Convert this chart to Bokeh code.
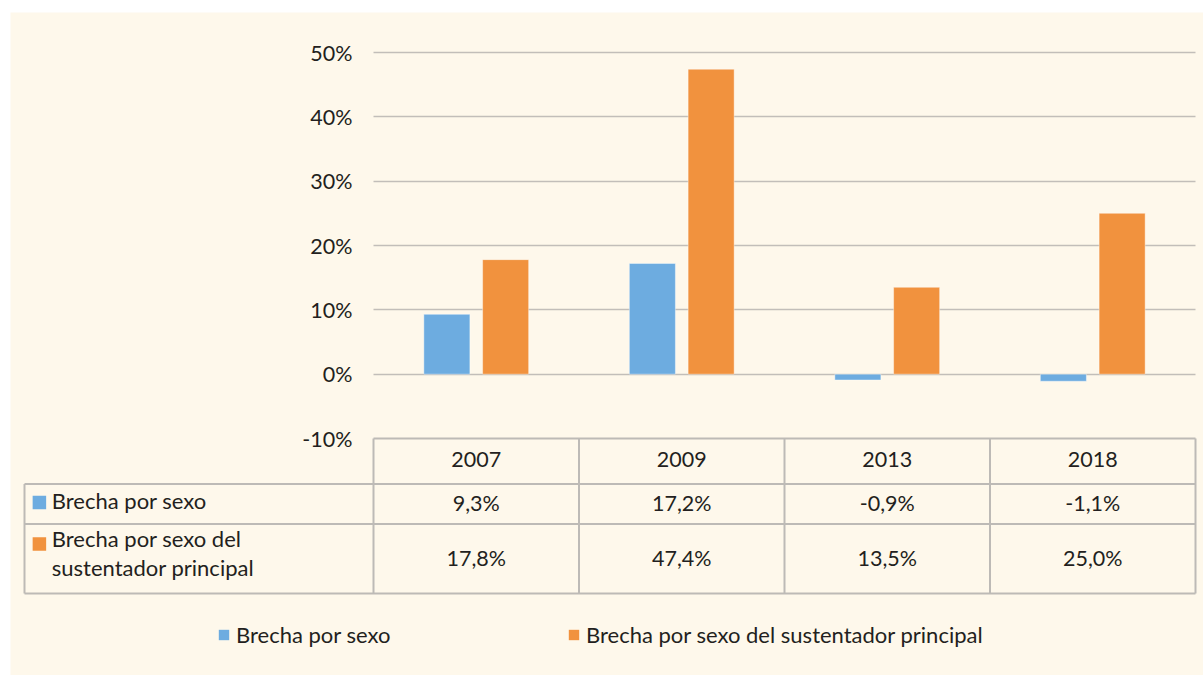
from bokeh.plotting import figure
from bokeh.models import (Range1d, FixedTicker, PrintfTickFormatter, ColumnDataSource,
                          Legend, LegendItem, LinearAxis, Grid)
from bokeh.transform import dodge
from bokeh.core.properties import value
from bokeh.embed import file_html
from bokeh.resources import INLINE

# ---------------- data ----------------
years = ["2007", "2009", "2013", "2018"]
brecha_sexo = [9.3, 17.2, -0.9, -1.1]
brecha_sustentador = [17.8, 47.4, 13.5, 25.0]
series_names = ["Brecha por sexo", "Brecha por sexo del sustentador principal"]
table_row_labels = ["Brecha por sexo", "Brecha por sexo del\nsustentador principal"]
y_ticks = [-10, 0, 10, 20, 30, 40, 50]
grid_ticks = [0, 10, 20, 30, 40, 50]

# ---------------- style ----------------
BLUE = "#6DACE0"
ORANGE = "#F1923E"
BG = "#FEF8EB"
GRID = "#C2BEB9"
TABLE_LINE = "#BDBAB6"
TEXT = "#231F20"
FONT = "Lato"
FS = "21.5px"
FS_LBL = "22px"

W, H = 1203, 675
LEFT, TOP = 10, 12            # white strip around the cream area
CAT_PX = 205.5                # pixel width of one category column
ZERO_X = 373                  # pixel x of the first category's left edge
PX_PER_PCT = 386 / 60         # vertical scale
Y50 = 52                      # pixel y of the 50% line


def xpx(px):
    return (px - ZERO_X) / CAT_PX


def ypx(py):
    return 50 - (py - Y50) / PX_PER_PCT


n = len(years)
p = figure(width=W, height=H,
           x_range=Range1d(xpx(LEFT), xpx(W)), y_range=Range1d(ypx(H), ypx(TOP)),
           output_backend="svg", toolbar_location=None,
           x_axis_location=None, y_axis_location=None,
           min_border_left=LEFT, min_border_top=TOP, min_border_right=0, min_border_bottom=0)
p.background_fill_color = BG
p.border_fill_color = "white"
p.outline_line_color = None
for g in p.grid:
    g.visible = False

# y axis anchored at the left edge of the category area
yaxis = LinearAxis(fixed_location=0, ticker=FixedTicker(ticks=y_ticks),
                   formatter=PrintfTickFormatter(format="%d%%"))
yaxis.axis_line_color = None
yaxis.major_tick_line_color = None
yaxis.minor_tick_line_color = None
yaxis.major_tick_out = 0
yaxis.major_tick_in = 0
yaxis.major_label_standoff = 21
yaxis.major_label_text_font = FONT
yaxis.major_label_text_font_size = FS
yaxis.major_label_text_color = TEXT
p.add_layout(yaxis, "left")

grid = Grid(dimension=1, ticker=FixedTicker(ticks=grid_ticks), cross_bounds=(0, n),
            grid_line_color=GRID, grid_line_width=1.5)
p.add_layout(grid)

# ---------------- bars ----------------
src = ColumnDataSource(dict(xc=[i + 0.5 for i in range(n)], year=years,
                            sexo=brecha_sexo, sust=brecha_sustentador))
p.vbar(x=dodge("xc", -0.143), top="sexo", bottom=0, width=0.224, source=src,
       fill_color=BLUE, line_color="white", line_alpha=0.4, line_width=1)
p.vbar(x=dodge("xc", 0.143), top="sust", bottom=0, width=0.224, source=src,
       fill_color=ORANGE, line_color="white", line_alpha=0.4, line_width=1)

# ---------------- data table ----------------
TL = xpx(24)
R0, R1, R2, R3 = ypx(438), ypx(483.5), ypx(523.5), ypx(593)
x0s = [0, TL, TL, TL, TL] + list(range(n + 1))
x1s = [n, n, n, n, TL] + list(range(n + 1))
y0s = [R0, R1, R2, R3, R1] + [R0] * (n + 1)
y1s = [R0, R1, R2, R3, R3] + [R3] * (n + 1)
p.segment(x0=x0s, y0=y0s, x1=x1s, y1=y1s, line_color=TABLE_LINE, line_width=2)

fmt = lambda v: f"{v:.1f}".replace(".", ",") + "%"
txt = dict(text_font=value(FONT), text_font_size=FS, text_color=TEXT,
           text_align="center", text_baseline="alphabetic")
p.text(x="xc", y=ypx(459), text="year", source=src, **txt)
p.text(x=src.data["xc"], y=[ypx(502)] * n, text=[fmt(v) for v in brecha_sexo], **txt)
p.text(x=src.data["xc"], y=[ypx(557)] * n, text=[fmt(v) for v in brecha_sustentador], **txt)

LBL_X = xpx(51.3)
SQ_X = xpx(38.9)
p.text(x=[LBL_X], y=[ypx(499.5)], text=[table_row_labels[0]], text_font=value(FONT),
       text_font_size=FS_LBL, text_color=TEXT, text_align="left", text_baseline="alphabetic")
p.text(x=[LBL_X], y=[ypx(524)], text=[table_row_labels[1]], text_font=value(FONT),
       text_font_size=FS_LBL, text_color=TEXT, text_align="left", text_baseline="top",
       text_line_height=1.1)

r1 = p.rect(x=[SQ_X], y=[ypx(501.9)], width=13.5, height=13.5, width_units="screen",
            height_units="screen", fill_color=BLUE, line_color=None)
r2 = p.rect(x=[SQ_X], y=[ypx(543.4)], width=13.5, height=13.5, width_units="screen",
            height_units="screen", fill_color=ORANGE, line_color=None)

# ---------------- legend ----------------
legend = Legend(items=[LegendItem(label=series_names[0], renderers=[r1]),
                       LegendItem(label=series_names[1], renderers=[r2])],
                orientation="horizontal", location=(207, 27),
                glyph_width=13, glyph_height=13, label_standoff=6, label_width=331,
                spacing=0, padding=0, margin=0, border_line_color=None,
                background_fill_alpha=0, label_text_font=FONT,
                label_text_font_size=FS_LBL, label_text_color=TEXT)
p.add_layout(legend)

open("out.html", "w").write(file_html(p, INLINE))
